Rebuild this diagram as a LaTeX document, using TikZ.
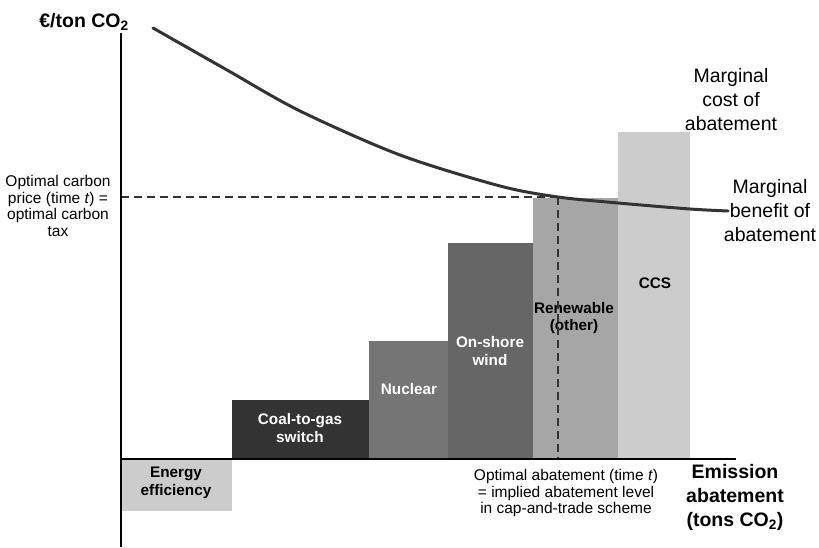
\documentclass[tikz,border=0pt]{standalone}
\usepackage{fontspec}
\setmainfont{Liberation Sans}
\usetikzlibrary{positioning, calc}

\begin{document}
\begin{tikzpicture}[
    x=1pt, y=-1pt,
    axis/.style={line width=2.6pt, black},
    bar/.style={draw=none},
    barlabel/.style={font=\bfseries\fontsize{15.3}{17.5}\selectfont, align=center, inner sep=0pt},
    note/.style={font=\fontsize{15.5}{16.4}\selectfont, align=center, inner sep=0pt},
    curvelabel/.style={font=\fontsize{19.5}{24}\selectfont, align=center, inner sep=0pt},
    axislabel/.style={font=\bfseries\fontsize{19.5}{24}\selectfont, align=center, inner sep=0pt},
    guide/.style={line width=2.3pt, black!80, dash pattern=on 8pt off 5pt}
]
\useasboundingbox (0,0) rectangle (819,548);

% Axes reference points
\coordinate (origin) at (121,459);
\coordinate (ytop) at (121,33);
\coordinate (ybot) at (121,547);
\coordinate (xend) at (736,459);

% Bars of the abatement cost curve
\fill[bar, fill=black!20] (121,459) rectangle (232,511);
\fill[bar, fill=black!80] (232,400) rectangle (369,459);
\fill[bar, fill=black!54] (369,341) rectangle (448,459);
\fill[bar, fill=black!60] (448,243) rectangle (533,459);
\fill[bar, fill=black!35] (533,198) rectangle (618,459);
\fill[bar, fill=black!20] (618,132) rectangle (690,459);

% Bar labels
\node[barlabel] (eff) at (176,483) {Energy\\efficiency};
\node[barlabel, white] (coal) at (300,428) {Coal-to-gas\\switch};
\node[barlabel, white] (nuc) at (409,389) {Nuclear};
\node[barlabel, white] (wind) at (490,351) {On-shore\\wind};
\node[barlabel] (renew) at (574,318) {Renewable\\(other)};
\node[barlabel] (ccs) at (655,283) {CCS};

% Optimum
\coordinate (opt) at (558,197);
\draw[guide] (opt -| origin) -- (opt);
\draw[guide] (opt) -- (opt |- origin);

% Marginal benefit curve
\draw[line width=3pt, black!80, line cap=round] plot[smooth] coordinates
    {(153,28) (227,70) (300,111) (400,155) (500,186) (558,197) (618,203) (690,209) (728,211)};

% Axes
\draw[axis] (ytop) -- (ybot);
\draw[axis] (origin) -- (xend);

% Axis and curve labels
\node[axislabel] (ylab) at (84,22) {€/ton CO\textsubscript{2}};
\node[axislabel] (xlab) at (735,497) {Emission\\abatement\\(tons CO\textsubscript{2})};
\node[curvelabel] (mac) at (731,100) {Marginal\\cost of\\abatement};
\node[curvelabel] (mb) at (770,211) {Marginal\\benefit of\\abatement};
\node[note] (price) at (58,206) {Optimal carbon\\price (time \textit{t}) =\\optimal carbon\\tax};
\node[note] (level) at (566,493) {Optimal abatement (time \textit{t})\\= implied abatement level\\in cap-and-trade scheme};

\end{tikzpicture}
\end{document}
